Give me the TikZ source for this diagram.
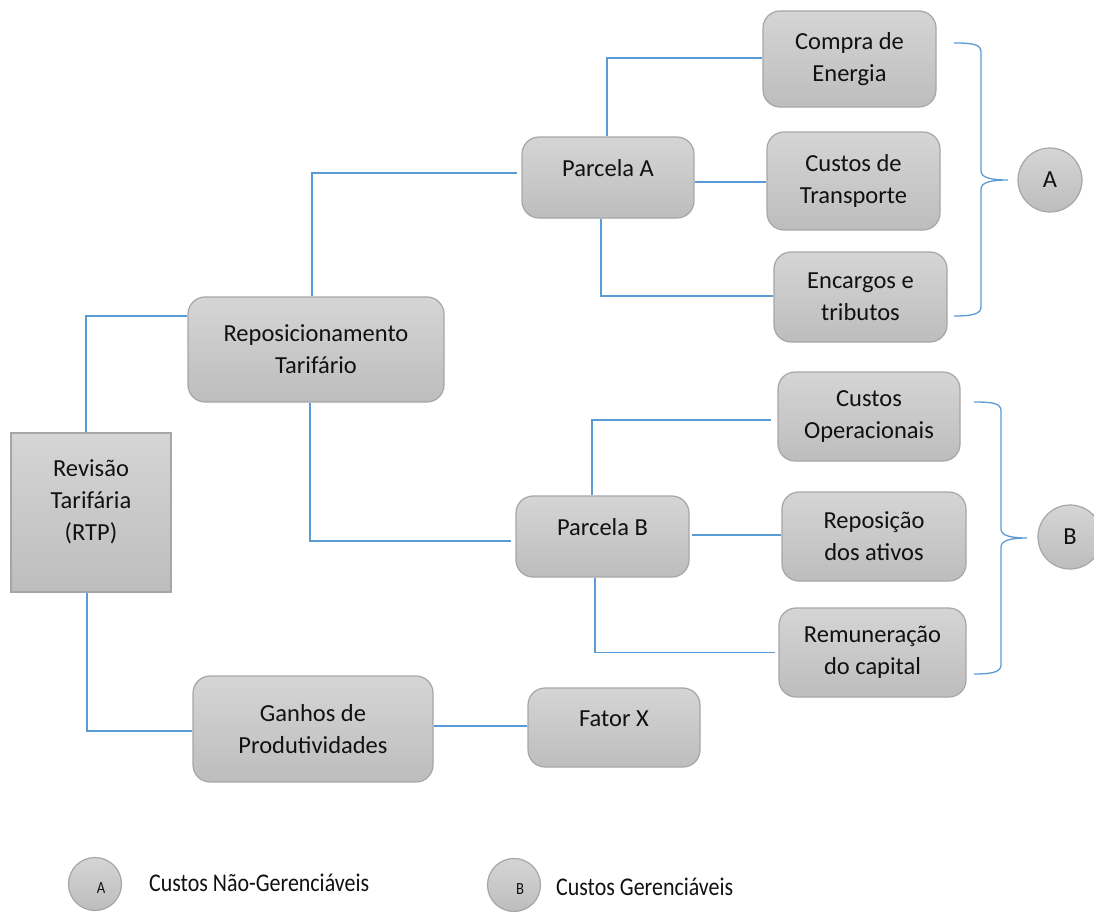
\documentclass[tikz,border=0pt]{standalone}
\usepackage{fontspec}
\setmainfont{Carlito}
\definecolor{wireblue}{HTML}{5B9BD5}
\definecolor{boxtop}{HTML}{D5D5D5}
\definecolor{boxbot}{HTML}{BDBDBD}
\definecolor{boxedge}{HTML}{A6A6A6}
\definecolor{ink}{HTML}{111111}
\newcommand\cardfont{\fontsize{24.5}{32}\selectfont}
\newcommand\legendfont{\fontsize{25.5}{30}\selectfont}
\newcommand\tinyletter{\fontsize{17}{20}\selectfont}
\newcommand\narrow[1]{\scalebox{0.86}[1]{#1}}
\begin{document}
\begin{tikzpicture}[x=1pt,y=-1pt,
  wire/.style={draw=wireblue, line width=1.3pt},
  card/.style={draw=boxedge, line width=1.2pt, top color=boxtop, bottom color=boxbot,
    rounded corners=17pt, align=center, inner sep=0pt, font=\cardfont, text=ink},
  sharpcard/.style={card, rounded corners=0pt},
  oneline/.style={text height=17pt, text depth=20pt},
  disc/.style={circle, draw=boxedge, line width=1.2pt, top color=boxtop, bottom color=boxbot,
    inner sep=0pt, text=ink},
  keydisc/.style={disc, minimum size=53pt, font=\tinyletter, text height=19pt, text depth=0pt},
  legendtext/.style={anchor=west, inner sep=0pt, font=\legendfont, text=ink}]

\path[use as bounding box] (0,0) rectangle (1094,911);
\clip (0,0) rectangle (1094,911);

% main boxes
\node[sharpcard, minimum width=160pt, minimum height=159pt] (rtp) at (91,512.5)
  {\begin{tabular}{@{}c@{}}Revisão\\Tarifária\\(RTP)\\[20pt]\end{tabular}};
\node[card, minimum width=256pt, minimum height=105pt] (repo) at (316,349.5) {Reposicionamento\\Tarifário};
\node[card, minimum width=240pt, minimum height=106pt] (gp) at (313,729) {Ganhos de\\Produtividades};

\node[card, oneline, minimum width=172pt, minimum height=81pt] (pa) at (608,177.5) {Parcela A};
\node[card, oneline, minimum width=173pt, minimum height=81pt] (pb) at (602.5,536.5) {Parcela B};
\node[card, oneline, minimum width=172pt, minimum height=79pt] (fx) at (614,727.5) {Fator X};

\node[card, minimum width=173pt, minimum height=96pt] (ce) at (849.5,59) {Compra de\\Energia};
\node[card, minimum width=173pt, minimum height=98pt] (ct) at (853.5,181) {Custos de\\Transporte};
\node[card, minimum width=173pt, minimum height=90pt] (et) at (860.5,297) {Encargos e\\tributos};

\node[card, minimum width=182pt, minimum height=89pt] (co) at (869,416.5) {Custos\\Operacionais};
\node[card, minimum width=184pt, minimum height=89pt] (ra) at (874,536.5) {Reposição\\dos ativos};
\node[card, minimum width=187pt, minimum height=89pt] (rc) at (872.5,652.5) {Remuneração\\do capital};

% group markers
\node[disc, minimum size=64pt, font=\cardfont] (ga) at (1050,180) {A};
\node[disc, minimum size=64pt, font=\cardfont] (gb) at (1070,537) {B};

% connectors
\draw[wire] ([xshift=-5pt]rtp.north) |- ([yshift=33.5pt]repo.west);
\draw[wire] ([xshift=-4pt]rtp.south) |- ([yshift=-2pt]gp.west);
\draw[wire] ([xshift=-4pt]repo.north) |- ([xshift=-4pt,yshift=4.5pt]pa.west);
\draw[wire] ([xshift=-6pt]repo.south) |- ([xshift=-4pt,yshift=-4.5pt]pb.west);

\draw[wire] ([xshift=-1pt]pa.north) |- ([yshift=1pt]ce.west);
\draw[wire] ([yshift=-4.5pt]pa.east) -- ([yshift=-4.5pt]pa.east -| ct.west);
\draw[wire] ([xshift=-7pt]pa.south) |- ([yshift=1pt]et.west);

\draw[wire] ([xshift=-10.5pt]pb.north) |- ([xshift=-6pt,yshift=-3.5pt]co.west);
\draw[wire] ([xshift=2pt,yshift=1.5pt]pb.east) -- ([yshift=1.5pt]pb.east -| ra.west);
\draw[wire] ([xshift=-7.5pt]pb.south) |- ([xshift=-3pt]rc.west);

\draw[wire] ([yshift=3pt]gp.east) -- ([yshift=3pt]gp.east -| fx.west);

% braces
\draw[wire] (954,43) .. controls (972,43) and (981,44) .. (981,52) -- (981,171)
  .. controls (981,178) and (992,180) .. (1008,180)
  .. controls (992,180) and (981,182) .. (981,189) -- (981,307)
  .. controls (981,314) and (972,316) .. (954,316);
\draw[wire] (974,402) .. controls (992,402) and (1001,403) .. (1001,411) -- (1001,529)
  .. controls (1001,536) and (1012,538) .. (1027,538)
  .. controls (1012,538) and (1001,540) .. (1001,547) -- (1001,665)
  .. controls (1001,672) and (992,674) .. (974,674);

% legend
\node[keydisc] (la) at (95,884) {\narrow{\hspace*{14pt}A}};
\node[legendtext] (lta) at (149,883) {\narrow{Custos Não-Gerenciáveis}};
\node[keydisc] (lb) at (514,885) {\narrow{\hspace*{14pt}B}};
\node[legendtext] (ltb) at (556,887) {\narrow{Custos Gerenciáveis}};
\end{tikzpicture}
\end{document}
